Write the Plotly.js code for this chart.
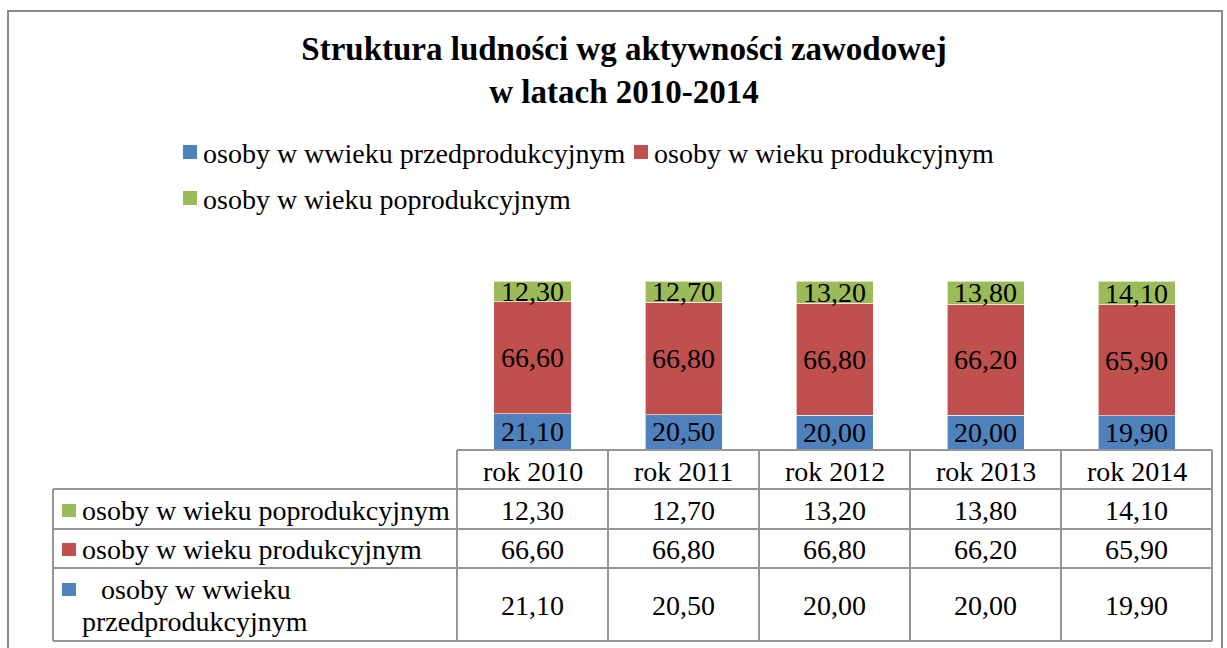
<!DOCTYPE html>
<html>
<head>
<meta charset="utf-8">
<script src="https://cdn.plot.ly/plotly-3.0.1.min.js"></script>
<style>html,body{margin:0;padding:0;background:#fff;}</style>
</head>
<body>
<div id="chart" style="width:1227px;height:648px;"></div>
<script>
// ---- data ----
const categories = ['rok 2010', 'rok 2011', 'rok 2012', 'rok 2013', 'rok 2014'];
const seriesNames = ['osoby w wwieku przedprodukcyjnym', 'osoby w wieku produkcyjnym', 'osoby w wieku poprodukcyjnym'];
const przedprodukcyjny = [21.10, 20.50, 20.00, 20.00, 19.90];
const produkcyjny = [66.60, 66.80, 66.80, 66.20, 65.90];
const poprodukcyjny = [12.30, 12.70, 13.20, 13.80, 14.10];
const titleText = 'Struktura ludności wg aktywności zawodowej<br>w latach 2010-2014';

// ---- style ----
const FONT = 'Liberation Serif, Times New Roman, serif';
const colors = ['#4F81BD', '#C0504D', '#9BBB59'];
const W = 1227, H = 648;
const L = 457, R = 1212, T = 281, B = 449;
const px = x => (x - L) / (R - L);
const py = y => (B - y) / (B - T);
const fmt = v => v.toFixed(2).replace('.', ',');
const FS = 28;
const gridColor = '#969696';

const seriesValues = [przedprodukcyjny, produkcyjny, poprodukcyjny];

const traces = seriesValues.map((vals, i) => ({
  type: 'bar',
  name: seriesNames[i],
  x: categories,
  y: vals,
  width: 0.51,
  marker: {color: colors[i], line: {color: 'rgba(255,255,255,0.6)', width: 1}},
  text: vals.map(fmt),
  texttemplate: '%{text}',
  textposition: 'inside',
  insidetextanchor: 'middle',
  textangle: 0,
  constraintext: 'none',
  cliponaxis: false,
  textfont: {family: FONT, size: FS, color: '#000'},
  hoverinfo: 'skip'
}));

const shapes = [];
const annotations = [];

// outer frame
shapes.push({type: 'rect', xref: 'paper', yref: 'paper', x0: px(8), x1: px(1222), y0: py(11), y1: py(720),
  line: {color: '#8a8a8a', width: 2}, fillcolor: 'rgba(0,0,0,0)', layer: 'below'});

// legend (custom, top)
const legendPos = [[183, 152], [634, 152], [183, 198]];
legendPos.forEach((p, i) => {
  shapes.push({type: 'rect', xref: 'paper', yref: 'paper', x0: px(p[0]), x1: px(p[0] + 14), y0: py(p[1] - 7), y1: py(p[1] + 7),
    line: {width: 0}, fillcolor: colors[i]});
  annotations.push({xref: 'paper', yref: 'paper', x: px(p[0] + 18), y: py(p[1] + 1), xanchor: 'left', yanchor: 'middle',
    text: seriesNames[i], showarrow: false, font: {family: FONT, size: FS, color: '#000'}});
});

// data table
const n = categories.length;
const rowLines = [450, 489, 529, 568, 641];
const tableLeft = 53;
// horizontal lines
rowLines.forEach((y, k) => {
  const x0 = k === 0 ? 0 : px(tableLeft);
  shapes.push({type: 'line', xref: 'paper', yref: 'paper', x0: x0, x1: 1, y0: py(y), y1: py(y), line: {color: gridColor, width: 2}});
});
// vertical lines
for (let i = 0; i <= n; i++) {
  shapes.push({type: 'line', xref: 'paper', yref: 'paper', x0: i / n, x1: i / n, y0: py(450), y1: py(641), line: {color: gridColor, width: 2}});
}
shapes.push({type: 'line', xref: 'paper', yref: 'paper', x0: px(tableLeft), x1: px(tableLeft), y0: py(489), y1: py(641), line: {color: gridColor, width: 2}});

// header texts
categories.forEach(c => {
  annotations.push({xref: 'x', yref: 'paper', x: c, y: py(471), xanchor: 'center', yanchor: 'middle', text: c,
    showarrow: false, font: {family: FONT, size: FS, color: '#000'}});
});

// rows: top = poprodukcyjny, middle = produkcyjny, bottom = przedprodukcyjny
const tableRows = [
  {idx: 2, yc: 510},
  {idx: 1, yc: 549},
  {idx: 0, yc: 605}
];
tableRows.forEach(r => {
  const vals = seriesValues[r.idx];
  categories.forEach((c, j) => {
    annotations.push({xref: 'x', yref: 'paper', x: c, y: py(r.yc), xanchor: 'center', yanchor: 'middle', text: fmt(vals[j]),
      showarrow: false, font: {family: FONT, size: FS, color: '#000'}});
  });
  const keyY = r.idx === 0 ? 589 : r.yc;
  shapes.push({type: 'rect', xref: 'paper', yref: 'paper', x0: px(62), x1: px(76), y0: py(keyY - 6), y1: py(keyY + 7),
    line: {width: 0}, fillcolor: colors[r.idx]});
  if (r.idx === 0) {
    const words = seriesNames[0].split(' ');
    const line1 = words.slice(0, 3).join(' ');
    const line2 = words.slice(3).join(' ');
    annotations.push({xref: 'paper', yref: 'paper', x: px(99), y: py(589), xanchor: 'left', yanchor: 'middle', text: line1,
      showarrow: false, font: {family: FONT, size: FS, color: '#000'}});
    annotations.push({xref: 'paper', yref: 'paper', x: px(80), y: py(621), xanchor: 'left', yanchor: 'middle', text: line2,
      showarrow: false, font: {family: FONT, size: FS, color: '#000'}});
  } else {
    annotations.push({xref: 'paper', yref: 'paper', x: px(80), y: py(r.yc), xanchor: 'left', yanchor: 'middle', text: seriesNames[r.idx],
      showarrow: false, font: {family: FONT, size: FS, color: '#000'}});
  }
});

const layout = {
  width: W, height: H, autosize: false,
  margin: {l: L, r: W - R, t: T, b: H - B, pad: 0},
  paper_bgcolor: '#fff', plot_bgcolor: 'rgba(0,0,0,0)',
  barmode: 'stack',
  separators: ', ',
  showlegend: false,
  title: {
    text: titleText,
    font: {family: FONT, size: 33, color: '#000', weight: 'bold'},
    xref: 'container', yref: 'container', x: 624 / W, xanchor: 'center', y: 1 - 60 / H, yanchor: 'top'
  },
  xaxis: {type: 'category', range: [-0.5, n - 0.5], visible: false, fixedrange: true},
  yaxis: {range: [0, 100], visible: false, fixedrange: true},
  shapes: shapes,
  annotations: annotations
};

Plotly.newPlot('chart', traces, layout, {displayModeBar: false, staticPlot: true});
</script>
</body>
</html>
